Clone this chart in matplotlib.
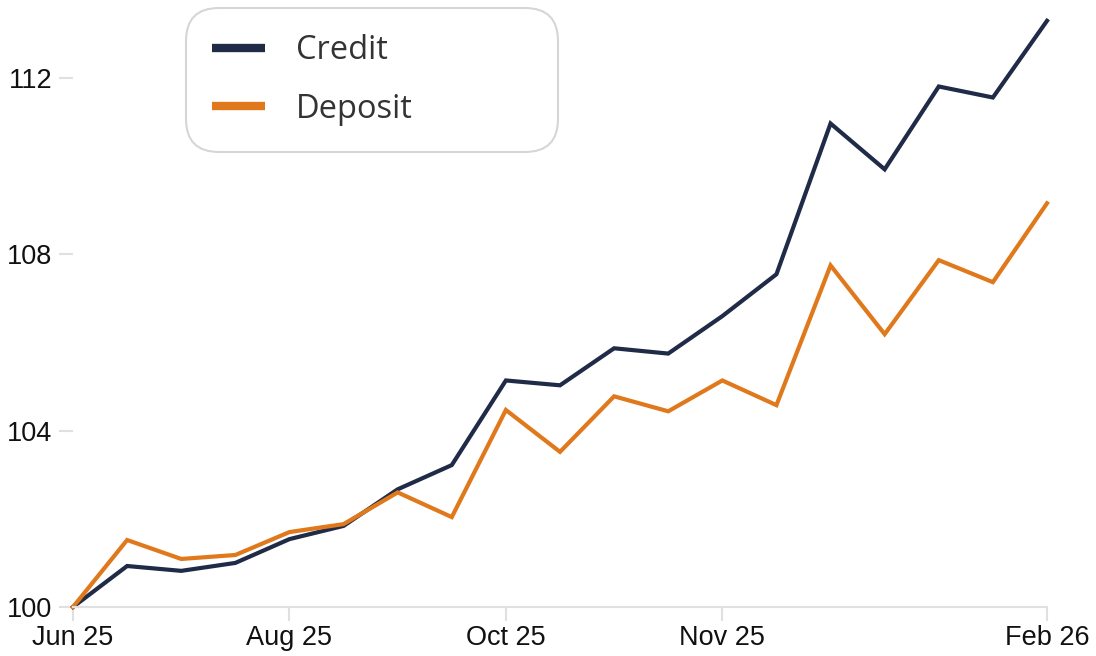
import matplotlib
matplotlib.use("Agg")
import matplotlib.pyplot as plt

tick_labels = ["Jun 25", "Aug 25", "Oct 25", "Nov 25", "Feb 26"]
tick_positions = [0, 4, 8, 12, 18]
credit = [100.0, 100.93, 100.82, 101.0, 101.54, 101.84, 102.67, 103.22, 105.14, 105.03,
          105.87, 105.75, 106.6, 107.55, 110.97, 109.93, 111.81, 111.56, 113.3]
deposit = [100.0, 101.52, 101.09, 101.18, 101.7, 101.88, 102.6, 102.04, 104.47, 103.52,
           104.78, 104.44, 105.14, 104.58, 107.75, 106.19, 107.87, 107.37, 109.16]
x = list(range(len(credit)))

fig = plt.figure(figsize=(10.96, 6.56), dpi=100)
ax = fig.add_axes([73/1096, 49/656, (1047-73)/1096, 595/656])
ax.plot(x, credit, color="#1f2b47", lw=3, label="Credit", clip_on=False, solid_joinstyle="miter")
ax.plot(x, deposit, color="#e0781c", lw=3, label="Deposit", clip_on=False, solid_joinstyle="miter")
ax.set_xlim(0, 18)
ax.set_ylim(100, 113.5)
ax.set_yticks([100, 104, 108, 112])
ax.set_xticks(tick_positions)
ax.set_xticklabels(tick_labels)
for s in ["top", "right", "left"]:
    ax.spines[s].set_visible(False)
ax.spines["bottom"].set_color("#e0e0e0")
ax.spines["bottom"].set_linewidth(1.5)
ax.tick_params(axis="x", length=10, width=1.5, color="#e0e0e0", pad=3,
               labelsize=19.5, labelcolor="#111111")
ax.tick_params(axis="y", length=10, width=1.5, color="#e0e0e0", pad=5,
               labelsize=19.5, labelcolor="#111111")
for lab in ax.get_xticklabels() + ax.get_yticklabels():
    lab.set_family("Liberation Sans")

leg = ax.legend(loc="upper left", bbox_to_anchor=(186/1096, 0, 372/1096, 1 - 8/656),
                bbox_transform=fig.transFigure, mode="expand", frameon=True, fancybox=True,
                prop={"family": "Open Sans", "size": 23.5}, handlelength=1.62,
                handletextpad=0.95, labelspacing=0.78, borderpad=0.8,
                borderaxespad=0)
leg.get_frame().set_edgecolor("#cccccc")
leg.get_frame().set_linewidth(1.5)
leg.get_frame().set_boxstyle("round,pad=0,rounding_size=1.0")
for line in leg.get_lines():
    line.set_linewidth(6)
    line.set_solid_capstyle("butt")
for t in leg.get_texts():
    t.set_color("#333333")

fig.savefig("out.png", dpi=100)
